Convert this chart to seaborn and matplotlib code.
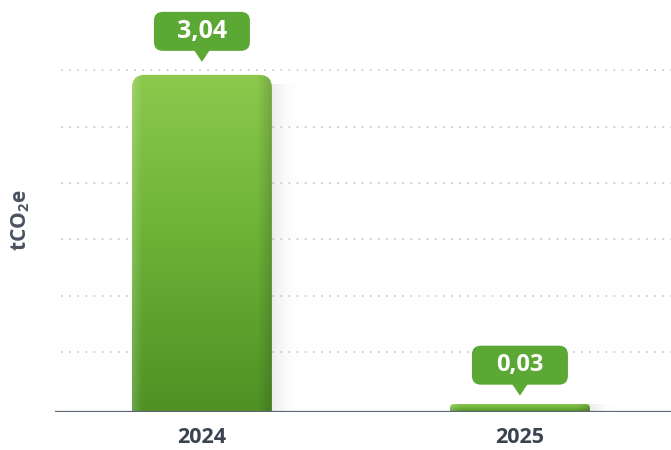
import numpy as np
import pandas as pd
import matplotlib
matplotlib.use("Agg")
import matplotlib.pyplot as plt
import seaborn as sns
from matplotlib.patches import FancyBboxPatch, Polygon
from matplotlib.transforms import Affine2D, ScaledTranslation
from matplotlib.colors import LinearSegmentedColormap

# data
years = ["2024", "2025"]
emissions = [3.04, 0.03]
labels = ["3,04", "0,03"]

sns.set_style("white")
plt.rcParams['font.family'] = ['Open Sans', 'DejaVu Sans']
plt.rcParams['mathtext.fontset'] = 'custom'
plt.rcParams['mathtext.bf'] = 'Open Sans:bold'
plt.rcParams['mathtext.rm'] = 'Open Sans'

df = pd.DataFrame({"year": years, "tco2e": emissions})

fig = plt.figure(figsize=(6.71, 4.5), dpi=100)
ax = fig.add_axes([55 / 671, 38 / 450, 616 / 671, 412 / 450])

sns.barplot(data=df, x="year", y="tco2e", color="#6cb33f", width=0.44, ax=ax)

ax.set_xlim(-0.462, 1.475)
ax.set_ylim(0, 3.715)

# dotted gridlines
for g in np.linspace(0.54, 3.08, 6):
    ax.axhline(g, xmin=0.01, xmax=1, color="#c9cdd2", lw=1.3,
               linestyle=(0, (1, 3.5)), zorder=0)
ax.axhline(0, color="#5b6574", lw=1.6, zorder=5)

green = LinearSegmentedColormap.from_list("g", ["#4f9124", "#6bb136", "#8cc94d"])
shadow = LinearSegmentedColormap.from_list("s", [(0.55, 0.57, 0.6, 0.22), (1, 1, 1, 0)])

fig.canvas.draw()
px_x = ax.transData.transform((1, 0))[0] - ax.transData.transform((0, 0))[0]
px_y = ax.transData.transform((0, 1))[1] - ax.transData.transform((0, 0))[1]

# horizontal shading: light left edge, darker right edge
shade = np.zeros((1, 128, 4))
xs = np.linspace(0, 1, 128)
shade[0, :, :3] = np.where(xs[:, None] < 0.5, 1.0, 0.1)
shade[0, :, 3] = np.clip(0.18 - xs * 2.5, 0, None) + np.clip((xs - 0.9) * 1.8, 0, None)

for i, (patch, val, lab) in enumerate(zip(ax.patches, emissions, labels)):
    x0 = patch.get_x()
    w = patch.get_width()
    h = max(patch.get_height(), 0.072)
    patch.set_visible(False)
    r = min(13 / px_x, h * px_y / 2 / px_x * 0.98)
    ry = r * px_x / px_y
    yb = -h if h < 0.2 else -ry
    box = FancyBboxPatch((x0, yb), w, h - yb,
                         boxstyle=f"round,pad=0,rounding_size={r}",
                         mutation_aspect=px_x / px_y, fc="none", ec="none", zorder=3)
    ax.add_patch(box)
    grad = np.linspace(0, 1, 256).reshape(-1, 1)
    im = ax.imshow(grad, cmap=green, origin="lower", aspect="auto",
                   extent=(x0, x0 + w, 0, h), zorder=3)
    im.set_clip_path(box)
    im2 = ax.imshow(shade, aspect="auto", extent=(x0, x0 + w, 0, h), zorder=3.5)
    im2.set_clip_path(box)
    # soft shadow on the right
    sw = 28 / px_x
    ax.imshow(np.linspace(0, 1, 64).reshape(1, -1), cmap=shadow, aspect="auto",
              extent=(x0 + w - 4 / px_x, x0 + w + sw, 0, h * 0.97), zorder=2)

    # callout
    cx = x0 + w / 2
    tr = Affine2D() + ScaledTranslation(cx, val, ax.transData)
    ax.add_patch(FancyBboxPatch((-48, 24), 96, 39,
                                boxstyle="round,pad=0,rounding_size=9",
                                fc="#5ca834", ec="none", transform=tr,
                                clip_on=False, zorder=6))
    ax.add_patch(Polygon([(-8, 25), (8, 25), (0, 13)], closed=True,
                         fc="#5ca834", ec="none", transform=tr,
                         clip_on=False, zorder=6))
    ax.text(0, 43.5, lab, transform=tr, ha="center", va="center",
            color="white", fontsize=18 if i == 0 else 17, fontweight="bold", zorder=7)

sns.despine(ax=ax, left=True, bottom=True, right=True, top=True)
ax.set_yticks([])
ax.set_xlabel("")
ax.set_ylabel(r"$\mathbf{tCO_2e}$", fontsize=15, color="#4a5261")
ax.yaxis.set_label_coords(-23 / 616, (412 - 220) / 412)
ax.tick_params(axis="x", length=0, pad=11, labelsize=15.5, labelcolor="#3b4351")
for t in ax.get_xticklabels():
    t.set_fontweight("bold")

fig.savefig("out.png", dpi=100)
